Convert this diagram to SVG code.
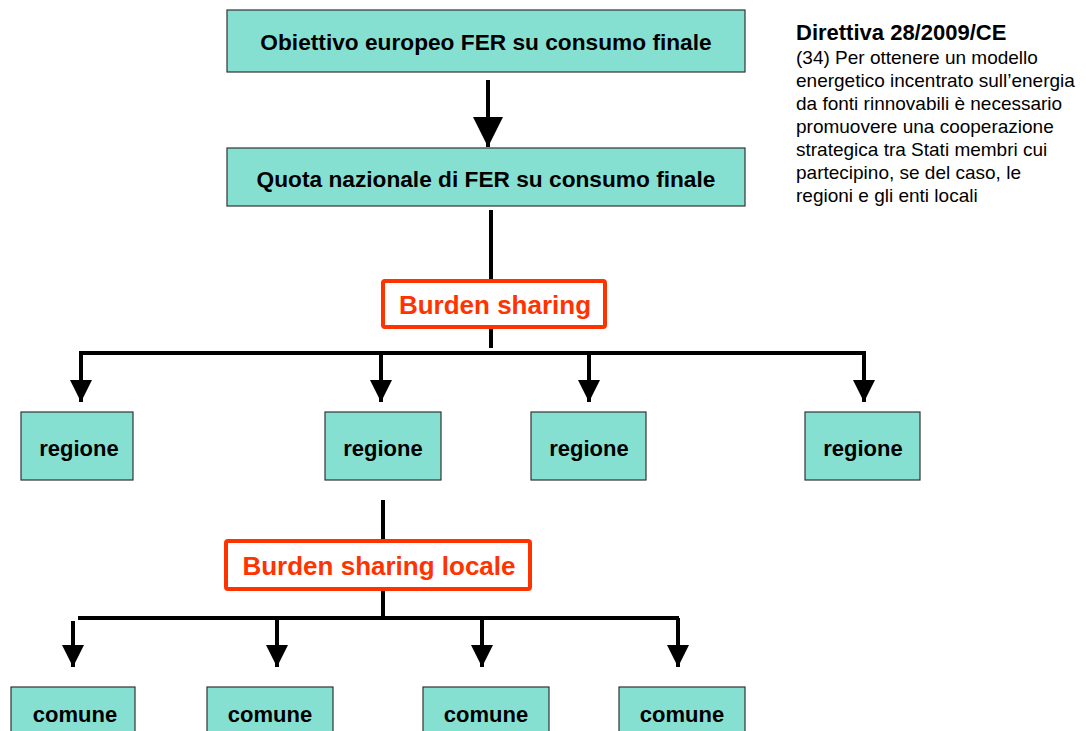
<svg xmlns="http://www.w3.org/2000/svg" width="1086" height="731" viewBox="0 0 1086 731">
<style>
.box{fill:#86E0D2;stroke:#333;stroke-width:1.2}
.red{fill:#fff;stroke:#FF3300;stroke-width:4}
.t{font-family:"Liberation Sans",Arial,sans-serif;font-weight:bold;text-anchor:middle;fill:#000}
.rt{font-family:"Liberation Sans",Arial,sans-serif;font-weight:bold;text-anchor:middle;fill:#FF3300;font-size:26px}
.ln{stroke:#000;stroke-width:4;fill:none}
.note{font-family:"Liberation Sans",Arial,sans-serif;font-size:19px;fill:#000}
</style>
<defs>
<marker id="ah" markerUnits="userSpaceOnUse" markerWidth="24" markerHeight="24" viewBox="0 0 24 24" refX="22" refY="12" orient="auto">
<path d="M0,1 L22,12 L0,23 Z" fill="#000"/>
</marker>
<marker id="ahb" markerUnits="userSpaceOnUse" markerWidth="32" markerHeight="32" viewBox="0 0 32 32" refX="30" refY="16" orient="auto">
<path d="M0,1 L30,16 L0,31 Z" fill="#000"/>
</marker>
</defs>
<g id="connectors">
<line class="ln" x1="488" y1="80" x2="488" y2="147" stroke-width="8" marker-end="url(#ahb)"/>
<line class="ln" x1="491" y1="210" x2="491" y2="282"/>
<line class="ln" x1="491" y1="326" x2="491" y2="348"/>
<polyline class="ln" points="81,402 81,353 864,353 864,402" marker-end="url(#ah)"/>
<line class="ln" x1="81" y1="353" x2="81" y2="402" marker-end="url(#ah)"/>
<line class="ln" x1="381" y1="353" x2="381" y2="402" marker-end="url(#ah)"/>
<line class="ln" x1="589" y1="353" x2="589" y2="402" marker-end="url(#ah)"/>
<line class="ln" x1="383" y1="500" x2="383" y2="542"/>
<line class="ln" x1="383" y1="588" x2="383" y2="618"/>
<line class="ln" x1="78" y1="618" x2="679" y2="618"/>
<line class="ln" x1="73" y1="621" x2="73" y2="667" marker-end="url(#ah)"/>
<line class="ln" x1="277" y1="618" x2="277" y2="667" marker-end="url(#ah)"/>
<line class="ln" x1="482" y1="618" x2="482" y2="667" marker-end="url(#ah)"/>
<line class="ln" x1="678" y1="618" x2="678" y2="667" marker-end="url(#ah)"/>
</g>
<g id="n-obiettivo">
<rect class="box" x="227" y="10" width="518" height="62"/>
<text class="t" x="486" y="50" font-size="22.7">Obiettivo europeo FER su consumo finale</text>
</g>
<g id="n-quota">
<rect class="box" x="227" y="148" width="518" height="58"/>
<text class="t" x="486" y="187" font-size="22.7">Quota nazionale di FER su consumo finale</text>
</g>
<g id="n-burden">
<rect class="red" x="383" y="281" width="222" height="46" rx="2"/>
<text class="rt" x="495" y="314">Burden sharing</text>
</g>
<g id="n-regione1">
<rect class="box" x="21" y="412" width="112" height="68"/>
<text class="t" x="79" y="456" font-size="22">regione</text>
</g>
<g id="n-regione2">
<rect class="box" x="325" y="412" width="116" height="68"/>
<text class="t" x="383" y="456" font-size="22">regione</text>
</g>
<g id="n-regione3">
<rect class="box" x="531" y="412" width="115" height="68"/>
<text class="t" x="589" y="456" font-size="22">regione</text>
</g>
<g id="n-regione4">
<rect class="box" x="805" y="412" width="115" height="68"/>
<text class="t" x="863" y="456" font-size="22">regione</text>
</g>
<g id="n-burden-locale">
<rect class="red" x="226" y="541" width="304" height="48" rx="2"/>
<text class="rt" x="379" y="575">Burden sharing locale</text>
</g>
<g id="n-comune1">
<rect class="box" x="11" y="687" width="124" height="50"/>
<text class="t" x="75" y="722" font-size="22">comune</text>
</g>
<g id="n-comune2">
<rect class="box" x="207" y="687" width="126" height="50"/>
<text class="t" x="270" y="722" font-size="22">comune</text>
</g>
<g id="n-comune3">
<rect class="box" x="423" y="687" width="126" height="50"/>
<text class="t" x="486" y="722" font-size="22">comune</text>
</g>
<g id="n-comune4">
<rect class="box" x="619" y="687" width="126" height="50"/>
<text class="t" x="682" y="722" font-size="22">comune</text>
</g>
<g id="note">
<text x="796" y="40" font-family="Liberation Sans, Arial, sans-serif" font-weight="bold" font-size="22px">Direttiva 28/2009/CE</text>
<text class="note" x="796" y="64">(34) Per ottenere un modello</text>
<text class="note" x="796" y="87">energetico incentrato sull’energia</text>
<text class="note" x="796" y="110">da fonti rinnovabili è necessario</text>
<text class="note" x="796" y="133">promuovere una cooperazione</text>
<text class="note" x="796" y="156">strategica tra Stati membri cui</text>
<text class="note" x="796" y="179">partecipino, se del caso, le</text>
<text class="note" x="796" y="202">regioni e gli enti locali</text>
</g>
</svg>
